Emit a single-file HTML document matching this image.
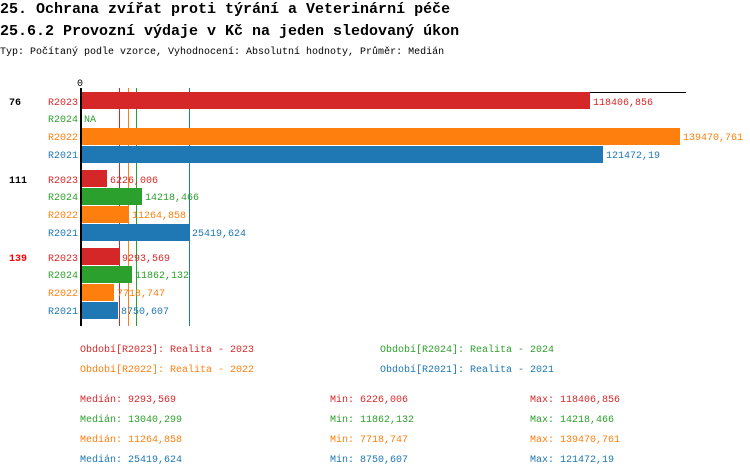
<!DOCTYPE html>
<html><head><meta charset="utf-8"><style>
body{margin:0;background:#fff;width:750px;height:476px;overflow:hidden}
svg{display:block}
text{font-family:"Liberation Mono",monospace;font-size:10px}
</style></head><body>
<svg width="750" height="476" xmlns="http://www.w3.org/2000/svg">
<text x="0" y="13" style="font-size:15px;font-weight:bold">25. Ochrana zvířat proti týrání a Veterinární péče</text>
<text x="0" y="35" style="font-size:15px;font-weight:bold">25.6.2 Provozní výdaje v Kč na jeden sledovaný úkon</text>
<text x="0" y="54">Typ: Počítaný podle vzorce, Vyhodnocení: Absolutní hodnoty, Průměr: Medián</text>
<text x="77" y="86">0</text>
<line x1="80" y1="92.5" x2="686" y2="92.5" stroke="#000"/>
<line x1="119.5" y1="88" x2="119.5" y2="326" stroke="#d62728"/>
<line x1="128.5" y1="88" x2="128.5" y2="326" stroke="#ff7f0e"/>
<line x1="136.5" y1="88" x2="136.5" y2="326" stroke="#2ca02c"/>
<line x1="189.5" y1="88" x2="189.5" y2="326" stroke="#1f77b4"/>
<g>
<rect x="82" y="92" width="508" height="17" fill="#d62728"/>
<rect x="82" y="128" width="598" height="17" fill="#ff7f0e"/>
<rect x="82" y="146" width="521" height="17" fill="#1f77b4"/>
<rect x="82" y="170" width="25" height="17" fill="#d62728"/>
<rect x="82" y="188" width="60" height="17" fill="#2ca02c"/>
<rect x="82" y="206" width="47" height="17" fill="#ff7f0e"/>
<rect x="82" y="224" width="107" height="17" fill="#1f77b4"/>
<rect x="82" y="248" width="37" height="17" fill="#d62728"/>
<rect x="82" y="266" width="50" height="17" fill="#2ca02c"/>
<rect x="82" y="284" width="32" height="17" fill="#ff7f0e"/>
<rect x="82" y="302" width="36" height="17" fill="#1f77b4"/>
</g>
<rect x="80" y="88" width="2" height="238" fill="#000"/>
<g style="font-weight:bold;font-size:12px">
<text x="9" y="105">76</text><text x="9" y="183">111</text><text x="9" y="261" fill="#f00">139</text>
</g>
<g text-anchor="end">
<text x="78" y="105" fill="#d62728">R2023</text><text x="78" y="122" fill="#2ca02c">R2024</text><text x="78" y="140" fill="#ff7f0e">R2022</text><text x="78" y="158" fill="#1f77b4">R2021</text>
<text x="78" y="183" fill="#d62728">R2023</text><text x="78" y="200" fill="#2ca02c">R2024</text><text x="78" y="218" fill="#ff7f0e">R2022</text><text x="78" y="236" fill="#1f77b4">R2021</text>
<text x="78" y="261" fill="#d62728">R2023</text><text x="78" y="278" fill="#2ca02c">R2024</text><text x="78" y="296" fill="#ff7f0e">R2022</text><text x="78" y="314" fill="#1f77b4">R2021</text>
</g>
<text x="593" y="105" fill="#d62728">118406,856</text>
<text x="84" y="122" fill="#2ca02c">NA</text>
<text x="683" y="140" fill="#ff7f0e">139470,761</text>
<text x="606" y="158" fill="#1f77b4">121472,19</text>
<text x="110" y="183" fill="#d62728">6226,006</text>
<text x="145" y="200" fill="#2ca02c">14218,466</text>
<text x="132" y="218" fill="#ff7f0e">11264,858</text>
<text x="192" y="236" fill="#1f77b4">25419,624</text>
<text x="122" y="261" fill="#d62728">9293,569</text>
<text x="135" y="278" fill="#2ca02c">11862,132</text>
<text x="117" y="296" fill="#ff7f0e">7718,747</text>
<text x="121" y="314" fill="#1f77b4">8750,607</text>
<text x="80" y="352" fill="#d62728">Období[R2023]: Realita - 2023</text>
<text x="380" y="352" fill="#2ca02c">Období[R2024]: Realita - 2024</text>
<text x="80" y="372" fill="#ff7f0e">Období[R2022]: Realita - 2022</text>
<text x="380" y="372" fill="#1f77b4">Období[R2021]: Realita - 2021</text>
<g fill="#d62728"><text x="80" y="402">Medián: 9293,569</text><text x="330" y="402">Min: 6226,006</text><text x="530" y="402">Max: 118406,856</text></g>
<g fill="#2ca02c"><text x="80" y="422">Medián: 13040,299</text><text x="330" y="422">Min: 11862,132</text><text x="530" y="422">Max: 14218,466</text></g>
<g fill="#ff7f0e"><text x="80" y="442">Medián: 11264,858</text><text x="330" y="442">Min: 7718,747</text><text x="530" y="442">Max: 139470,761</text></g>
<g fill="#1f77b4"><text x="80" y="462">Medián: 25419,624</text><text x="330" y="462">Min: 8750,607</text><text x="530" y="462">Max: 121472,19</text></g>
</svg>
</body></html>
